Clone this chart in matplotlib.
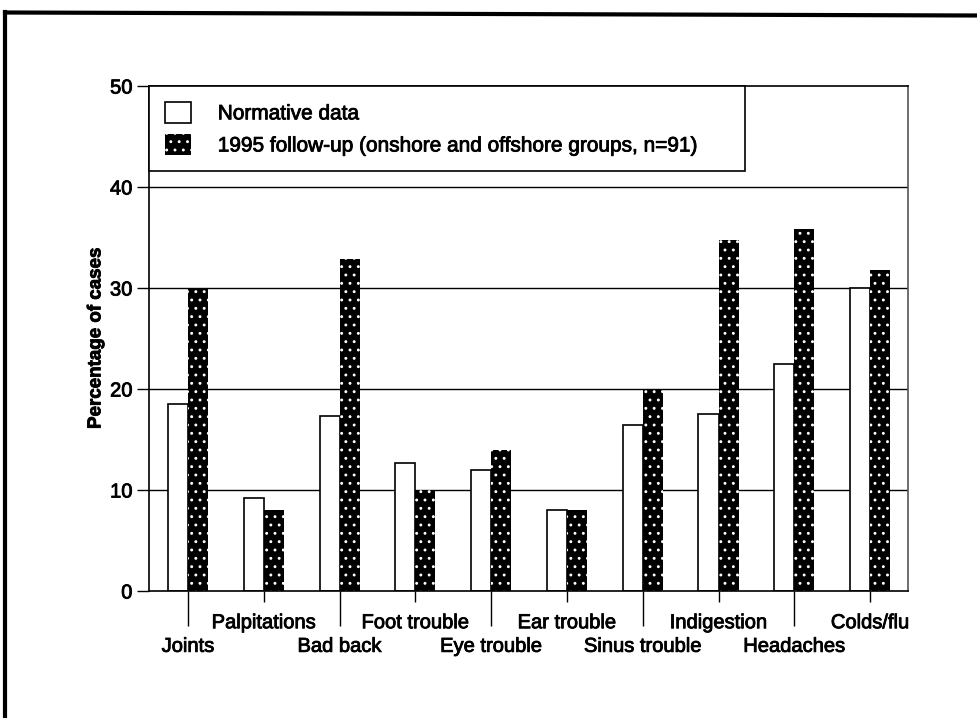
import matplotlib
matplotlib.use('Agg')
import matplotlib.pyplot as plt
import matplotlib.patheffects as pe
import numpy as np
from matplotlib.lines import Line2D

categories = ['Joints', 'Palpitations', 'Bad back', 'Foot trouble', 'Eye trouble',
              'Ear trouble', 'Sinus trouble', 'Indigestion', 'Headaches', 'Colds/flu']
normative = [18.5, 9.2, 17.3, 12.7, 12.0, 8.0, 16.4, 17.5, 22.5, 30.0]
followup = [30.0, 8.0, 32.9, 10.0, 14.0, 8.0, 20.0, 34.8, 35.8, 31.8]
yticks = [0, 10, 20, 30, 40, 50]

plt.rcParams['font.family'] = ['Liberation Sans', 'DejaVu Sans']
plt.rcParams['hatch.linewidth'] = 0.9

fig = plt.figure(figsize=(9.78, 7.18), dpi=100)
ax = fig.add_axes([149 / 978, 1 - 591 / 718, (908 - 149) / 978, (591 - 86) / 718])

x = np.arange(len(categories))
w = 0.265
ax.bar(x - w / 2, normative, w, facecolor='white', edgecolor='black', linewidth=1.2,
       zorder=2, label='Normative data')
ax.bar(x + w / 2, followup, w, facecolor='black', edgecolor='white', linewidth=0,
       hatch='..', zorder=2, label='1995 follow-up (onshore and offshore groups, n=91)')

ax.set_xlim(-0.515, 9.5)
ax.set_ylim(0, 50)
ax.set_yticks(yticks)
ax.set_yticklabels([str(t) for t in yticks], fontsize=14.5)
ax.tick_params(axis='y', length=8.5, width=1, pad=3.5, direction='out')
for t in [10, 20, 30, 40]:
    ax.axhline(t, color='black', linewidth=1, zorder=1)

# alternate label rows: even categories low (long ticks), odd high (short ticks)
ax.set_xticks(x[::2])
ax.set_xticklabels(categories[::2], fontsize=14.5)
ax.set_xticks(x[1::2], minor=True)
ax.set_xticklabels(categories[1::2], minor=True, fontsize=14.5)
ax.tick_params(axis='x', which='major', length=25, width=1, pad=8)
ax.tick_params(axis='x', which='minor', length=8, width=1, pad=8)

ax.set_ylabel('Percentage of cases', fontsize=13.5, fontweight='bold', labelpad=4)

for s in ax.spines.values():
    s.set_linewidth(1.2)
ax.spines['right'].set_color('#555555')

leg = ax.legend(loc='upper left', bbox_to_anchor=(0, 1, (745 - 149) / (908 - 149), 0),
                mode='expand', borderaxespad=0, fancybox=False, framealpha=1,
                edgecolor='black', fontsize=15, handlelength=1.25, handleheight=1.2,
                handletextpad=1.3, labelspacing=0.5, borderpad=0.75)
leg.get_frame().set_linewidth(1.2)
leg.set_zorder(5)

# scanned print looks a little heavier than the plain font
heavy = [pe.withStroke(linewidth=0.6, foreground='black')]
for t in (ax.get_xticklabels() + ax.get_xticklabels(minor=True) + ax.get_yticklabels()
          + leg.get_texts() + [ax.yaxis.label]):
    t.set_path_effects(heavy)

# scanned page frame
fig.add_artist(Line2D([5 / 978, 5 / 978], [0, 1 - 12 / 718], color='black', linewidth=3,
                      transform=fig.transFigure))
fig.add_artist(Line2D([5 / 978, 1], [1 - 12.5 / 718, 1 - 15.5 / 718], color='black',
                      linewidth=3, transform=fig.transFigure))

fig.savefig('out.png', dpi=100)
